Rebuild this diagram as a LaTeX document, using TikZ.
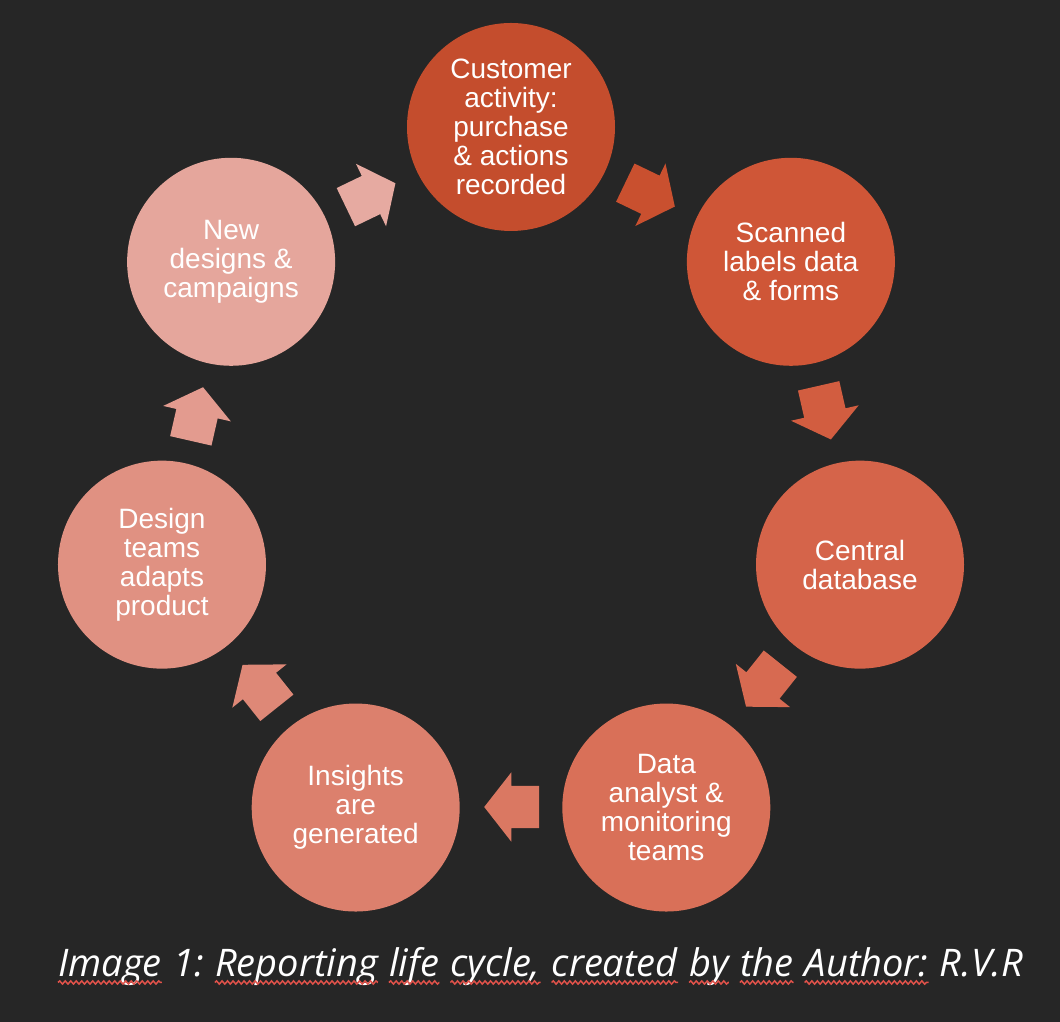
\documentclass[tikz,border=0pt]{standalone}
\usepackage{fontspec}
\setmainfont{Liberation Sans}
\newfontfamily\capfont{Open Sans}
\usetikzlibrary{shapes.arrows,decorations.pathmorphing}

\definecolor{bg}{HTML}{262626}
\definecolor{squigred}{HTML}{E0524A}
% circle fills, dark to light
\definecolor{cyc0}{HTML}{C44D2D}
\definecolor{cyc1}{HTML}{CF5637}
\definecolor{cyc2}{HTML}{D5644A}
\definecolor{cyc3}{HTML}{D97058}
\definecolor{cyc4}{HTML}{DC806D}
\definecolor{cyc5}{HTML}{E09182}
\definecolor{cyc6}{HTML}{E5A69C}
% arrow fills
\definecolor{arr0}{HTML}{C9502F}
\definecolor{arr1}{HTML}{D25D40}
\definecolor{arr2}{HTML}{D76A51}
\definecolor{arr3}{HTML}{DA7862}
\definecolor{arr4}{HTML}{DE8877}
\definecolor{arr5}{HTML}{E39B8F}
\definecolor{arr6}{HTML}{E6AAA1}

\newcommand{\ringvar}{
\def\xc{511}   % ring centre
\def\yc{537}
\def\Rn{358}   % radius of the stage circles
\def\Ra{322}   % radius of the arrows
\def\da{9}     % pull arrows back towards their tail
\def\dang{51.4286}
\def\spc{11pt} % word space in the caption
}
\newcommand{\Dia}{208pt}

\tikzset{
  stage/.style={circle,inner sep=0pt,minimum size=\Dia,text=white,align=center,
    font=\fontsize{28}{29}\selectfont},
  flow/.style={single arrow,inner sep=0pt,minimum height=55pt,
    single arrow head extend=13.5pt,single arrow tip angle=104},
  word/.style={anchor=base west,inner sep=0pt,text=white,
    font=\capfont\itshape\fontsize{38}{42}\selectfont},
  squig/.style={squigred,line width=1.5pt,decorate,
    decoration={snake,segment length=5.5pt,amplitude=1.6pt}}
}

\begin{document}
\begin{tikzpicture}[x=1pt,y=1pt]
  \ringvar
  \fill[bg] (0,0) rectangle (1060,1022);
  \useasboundingbox (0,0) rectangle (1060,1022);
  \foreach \i/\txt in {0/{Customer\\activity:\\purchase\\\& actions\\recorded},
                       1/{Scanned\\labels data\\\& forms},
                       2/{Central\\database},
                       3/{Data\\analyst \&\\monitoring\\teams},
                       4/{Insights\\are\\generated},
                       5/{Design\\teams\\adapts\\product},
                       6/{New\\designs \&\\campaigns}}{
    \pgfmathsetmacro{\ang}{90-\i*\dang}
    \node[stage,fill=cyc\i] (s\i) at ({\xc+\Rn*cos(\ang)},{\yc+\Rn*sin(\ang)}) {\txt};
  }
  \foreach \i in {0,...,6}{
    \pgfmathsetmacro{\ang}{90-(\i+0.5)*\dang}
    \node[flow,fill=arr\i,rotate=\ang-90] (a\i)
      at ({\xc+\Ra*cos(\ang)-\da*sin(\ang)},{\yc+\Ra*sin(\ang)+\da*cos(\ang)})
      {\rule{0pt}{42pt}};
  }
  % caption, word by word
  \node[word] (w0) at (58,45) {Image};
  \foreach \w [count=\k, remember=\k as \p (initially 0)] in
    {1:,Reporting,life,{cycle,},created,by,the,Author:,R.V.R}
    \node[word] (w\k) at ([xshift=\spc]w\p.base east) {\w};
  % spell-check marks
  \foreach \k in {0,2,3,4,5,6,7,8}
    \draw[squig] ([yshift=-5.5pt]w\k.base west) -- ([yshift=-5.5pt]w\k.base east);
\end{tikzpicture}
\end{document}
